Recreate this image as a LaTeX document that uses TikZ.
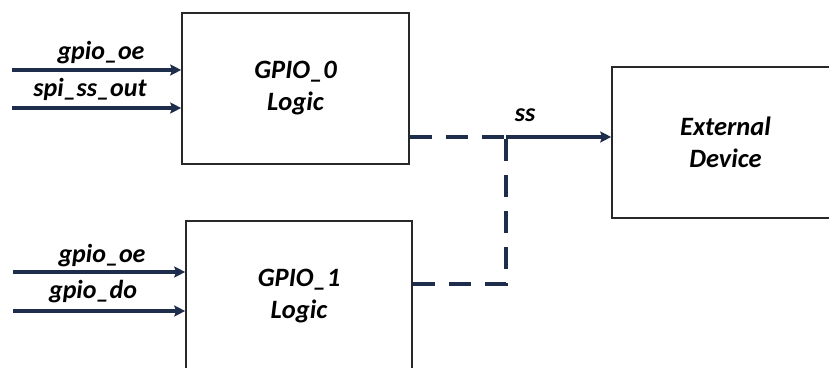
\documentclass[tikz,border=0pt]{standalone}
\usepackage{fontspec}
\setmainfont{Carlito}
\usetikzlibrary{arrows.meta}
\definecolor{wire}{RGB}{30,45,75}
\definecolor{boxline}{RGB}{40,40,40}
\tikzset{
  blk/.style={draw=boxline, line width=1.6pt, minimum width=227pt, minimum height=151pt, inner sep=0pt, align=center, font=\fontsize{26.5}{32}\selectfont\bfseries\itshape},
  sig/.style={font=\fontsize{26}{28}\selectfont\bfseries\itshape, anchor=base, inner sep=0pt},
  wirearrow/.style={draw=wire, line width=3.4pt, -{Stealth[length=11pt, width=11pt, inset=2pt]}},
  dashwire/.style={draw=wire, line width=3.4pt, dash pattern=on 22pt off 14pt}
}
\begin{document}
\begin{tikzpicture}[x=1pt, y=1pt]
\useasboundingbox (0,0) rectangle (829,367);
\clip (0,0) rectangle (829,367);
\fill[white] (0,0) rectangle (829,367);
% blocks
\node[blk] (g0) at (295.5,278.5) {GPIO\_0\\Logic};
\node[blk, minimum width=226pt] (g1) at (299,70.5) {GPIO\_1\\Logic};
\node[blk] (ext) at (725.5,224.5) {External\\Device};
% input start points
\coordinate (i0a) at (12,297);
\coordinate (i0b) at (12,259);
\coordinate (i1a) at (13,95);
\coordinate (i1b) at (13,56);
\draw[wirearrow] (i0a) -- (g0.west |- i0a);
\draw[wirearrow] (i0b) -- (g0.west |- i0b);
\draw[wirearrow] (i1a) -- (g1.west |- i1a);
\draw[wirearrow] (i1b) -- (g1.west |- i1b);
% input labels
\node[sig] (l0a) at (101,307) {gpio\_oe};
\node[sig] (l0b) at (90,270) {spi\_ss\_out};
\node[sig] (l1a) at (102,105) {gpio\_oe};
\node[sig] (l1b) at (93,69) {gpio\_do};
% output wiring
\coordinate (j) at (506,230);
\coordinate (k) at (506,83);
\draw[dashwire] (g0.east |- j) -- (j);
\draw[dashwire] (g1.east |- k) -- (k) -- (j);
\draw[wirearrow] (j) -- (ext.west |- j);
\node[sig] (ss) at (525,245) {ss};
\end{tikzpicture}
\end{document}
